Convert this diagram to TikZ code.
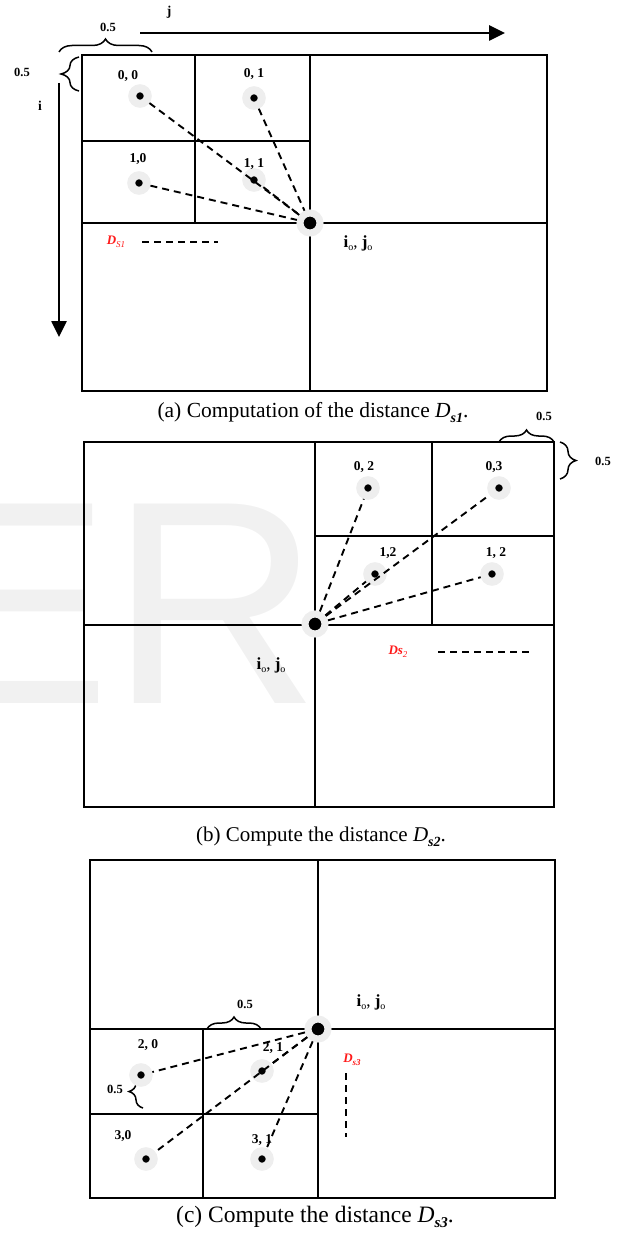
\documentclass[tikz,border=0pt]{standalone}
\usepackage{fontspec}
\setmainfont{Liberation Serif}
\newfontfamily\wmfont{Liberation Sans}
\usetikzlibrary{arrows.meta,decorations.pathreplacing}
\definecolor{halo}{HTML}{EEEEEE}
\definecolor{wmgray}{HTML}{F1F1F1}
\definecolor{dred}{HTML}{FF1A1A}
\newcommand{\ioj}{\textbf{i}\raisebox{-0.2em}{\fontsize{10}{10}\selectfont o}, \textbf{j}\raisebox{-0.2em}{\fontsize{10}{10}\selectfont o}}
\begin{document}
\begin{tikzpicture}[x=1pt,y=-1pt,
  frame/.style={line width=2.2pt},
  gridline/.style={line width=1.9pt},
  ptnode/.style={circle,fill=black,draw=halo,line width=8pt,minimum size=15.5pt,inner sep=0pt},
  ctrnode/.style={circle,fill=black,draw=halo,line width=7pt,minimum size=20pt,inner sep=0pt},
  conn/.style={line width=1.9pt,dash pattern=on 7pt off 5pt},
  lbl/.style={inner sep=0pt,font=\fontsize{13.5}{15}\selectfont\bfseries},
  iolbl/.style={inner sep=0pt,font=\fontsize{17}{19}\selectfont},
  redlbl/.style={inner sep=0pt,text=dred,font=\fontsize{13}{15}\selectfont\bfseries\itshape},
  bracelbl/.style={inner sep=0pt,font=\fontsize{12.5}{14}\selectfont\bfseries},
  bracepath/.style={line width=1.5pt,decorate,decoration={brace,amplitude=#1}},
  axisarrow/.style={line width=2.6pt,-{Triangle[length=16pt,width=15pt]}},
  caption/.style={inner sep=0pt,anchor=base}
]
\useasboundingbox (0,0) rectangle (625,1236);
% watermark
\node[anchor=base west,inner sep=0pt,text=wmgray,font=\fontsize{290}{290}\selectfont\wmfont] (wm) at (-83,703) {ER};

% ================= Panel (a) =================
\draw[frame] (82,55) rectangle (547,391);
\draw[gridline] (310,55) -- (310,391);
\draw[gridline] (82,223) -- (547,223);
\draw[gridline] (195,55) -- (195,223);
\draw[gridline] (82,141) -- (310,141);

\coordinate (jstart) at (140,33);
\coordinate (jend) at (505,33);
\draw[axisarrow] (jstart) -- (jend);
\node[lbl] (jl) at (169,12) {j};
\coordinate (istart) at (59,83);
\coordinate (iend) at (59,337);
\draw[axisarrow] (istart) -- (iend);
\node[lbl] (il) at (40,106) {i};

\coordinate (abt1) at (59,52);
\coordinate (abt2) at (152,52);
\draw[bracepath=13pt] (abt1) -- (abt2);
\node[bracelbl] (abtl) at (108,27) {0.5};
\coordinate (abl1) at (79,91);
\coordinate (abl2) at (79,57);
\draw[bracepath=18pt] (abl1) -- (abl2);
\node[bracelbl] (abll) at (22,72) {0.5};

\node[ctrnode] (ac) at (310,223) {};
\node[ptnode] (a00) at (140,96) {};
\node[ptnode] (a01) at (254,98) {};
\node[ptnode] (a10) at (139,183) {};
\node[ptnode] (a11) at (254,180) {};
\draw[conn] (a00) -- (ac);
\draw[conn] (a01) -- (ac);
\draw[conn] (a10) -- (ac);
\draw[conn] (a11) -- (ac);
\node[lbl] (la00) at (128,76) {0, 0};
\node[lbl] (la01) at (254,74) {0, 1};
\node[lbl] (la10) at (138,159) {1,0};
\node[lbl] (la11) at (254,164) {1, 1};
\node[iolbl] (aio) at (358,243) {\ioj};
\node[redlbl] (ads) at (116,242) {D\raisebox{-0.2em}{\fontsize{9}{9}\selectfont\mdseries\itshape S1}};
\coordinate (adl1) at (142,242);
\coordinate (adl2) at (218,242);
\draw[conn] (adl1) -- (adl2);
\node[caption,font=\fontsize{21.5}{24}\selectfont] (capa) at (313,417) {(a) Computation of the distance \textit{D}\raisebox{-0.25em}{\fontsize{14}{14}\selectfont\bfseries\itshape s1}.};

% ================= Panel (b) =================
\draw[frame] (84,442) rectangle (554,807);
\draw[gridline] (315,442) -- (315,807);
\draw[gridline] (84,625) -- (554,625);
\draw[gridline] (432,442) -- (432,625);
\draw[gridline] (315,536) -- (554,536);

\coordinate (bbt1) at (499,442);
\coordinate (bbt2) at (554,442);
\draw[bracepath=12pt] (bbt1) -- (bbt2);
\node[bracelbl] (bbtl) at (544,416) {0.5};
\coordinate (bbr1) at (560,442);
\coordinate (bbr2) at (560,479);
\draw[bracepath=16pt] (bbr1) -- (bbr2);
\node[bracelbl] (bbrl) at (603,461) {0.5};

\node[ctrnode] (bc) at (315,624) {};
\node[ptnode] (b02) at (368,488) {};
\node[ptnode] (b03) at (499,488) {};
\node[ptnode] (b12) at (375,574) {};
\node[ptnode] (b12r) at (492,574) {};
\draw[conn] (bc) -- (b02);
\draw[conn] (bc) -- (b03);
\draw[conn] (bc) -- (b12);
\draw[conn] (bc) -- (b12r);
\node[lbl] (lb02) at (364,467) {0, 2};
\node[lbl] (lb03) at (494,467) {0,3};
\node[lbl] (lb12) at (388,553) {1,2};
\node[lbl] (lb12r) at (496,553) {1, 2};
\node[iolbl] (bio) at (271,665) {\ioj};
\node[redlbl] (bds) at (398,652) {Ds\raisebox{-0.2em}{\fontsize{9}{9}\selectfont\mdseries 2}};
\coordinate (bdl1) at (438,652);
\coordinate (bdl2) at (530,652);
\draw[conn] (bdl1) -- (bdl2);
\node[caption,font=\fontsize{21}{24}\selectfont] (capb) at (321,841) {(b) Compute the distance \textit{D}\raisebox{-0.25em}{\fontsize{14}{14}\selectfont\bfseries\itshape s2}.};

% ================= Panel (c) =================
\draw[frame] (90,860) rectangle (555,1198);
\draw[gridline] (318,860) -- (318,1198);
\draw[gridline] (90,1029) -- (555,1029);
\draw[gridline] (203,1029) -- (203,1198);
\draw[gridline] (90,1114) -- (318,1114);

\coordinate (cbt1) at (207,1029);
\coordinate (cbt2) at (261,1029);
\draw[bracepath=12pt] (cbt1) -- (cbt2);
\node[bracelbl] (cbtl) at (245,1004) {0.5};
\coordinate (cbl1) at (143,1108);
\coordinate (cbl2) at (143,1075);
\draw[bracepath=14pt] (cbl1) -- (cbl2);
\node[bracelbl] (cbll) at (115,1089) {0.5};

\node[ctrnode] (cc) at (318,1029) {};
\node[ptnode] (c20) at (141,1075) {};
\node[ptnode] (c21) at (262,1071) {};
\node[ptnode] (c30) at (146,1159) {};
\node[ptnode] (c31) at (262,1159) {};
\draw[conn] (cc) -- (c20);
\draw[conn] (cc) -- (c21);
\draw[conn] (cc) -- (c30);
\draw[conn] (cc) -- (c31);
\node[lbl] (lc20) at (148,1045) {2, 0};
\node[lbl] (lc21) at (273,1048) {2, 1};
\node[lbl] (lc30) at (123,1136) {3,0};
\node[lbl] (lc31) at (262,1140) {3, 1};
\node[iolbl] (cio) at (371,1002) {\ioj};
\node[redlbl] (cds) at (352,1060) {D\raisebox{-0.2em}{\fontsize{9}{9}\selectfont s3}};
\coordinate (cdl1) at (346,1073);
\coordinate (cdl2) at (346,1137);
\draw[conn] (cdl1) -- (cdl2);
\node[caption,font=\fontsize{23.5}{26}\selectfont] (capc) at (315,1222) {(c) Compute the distance \textit{D}\raisebox{-0.25em}{\fontsize{15}{15}\selectfont\bfseries\itshape s3}.};
\end{tikzpicture}
\end{document}
